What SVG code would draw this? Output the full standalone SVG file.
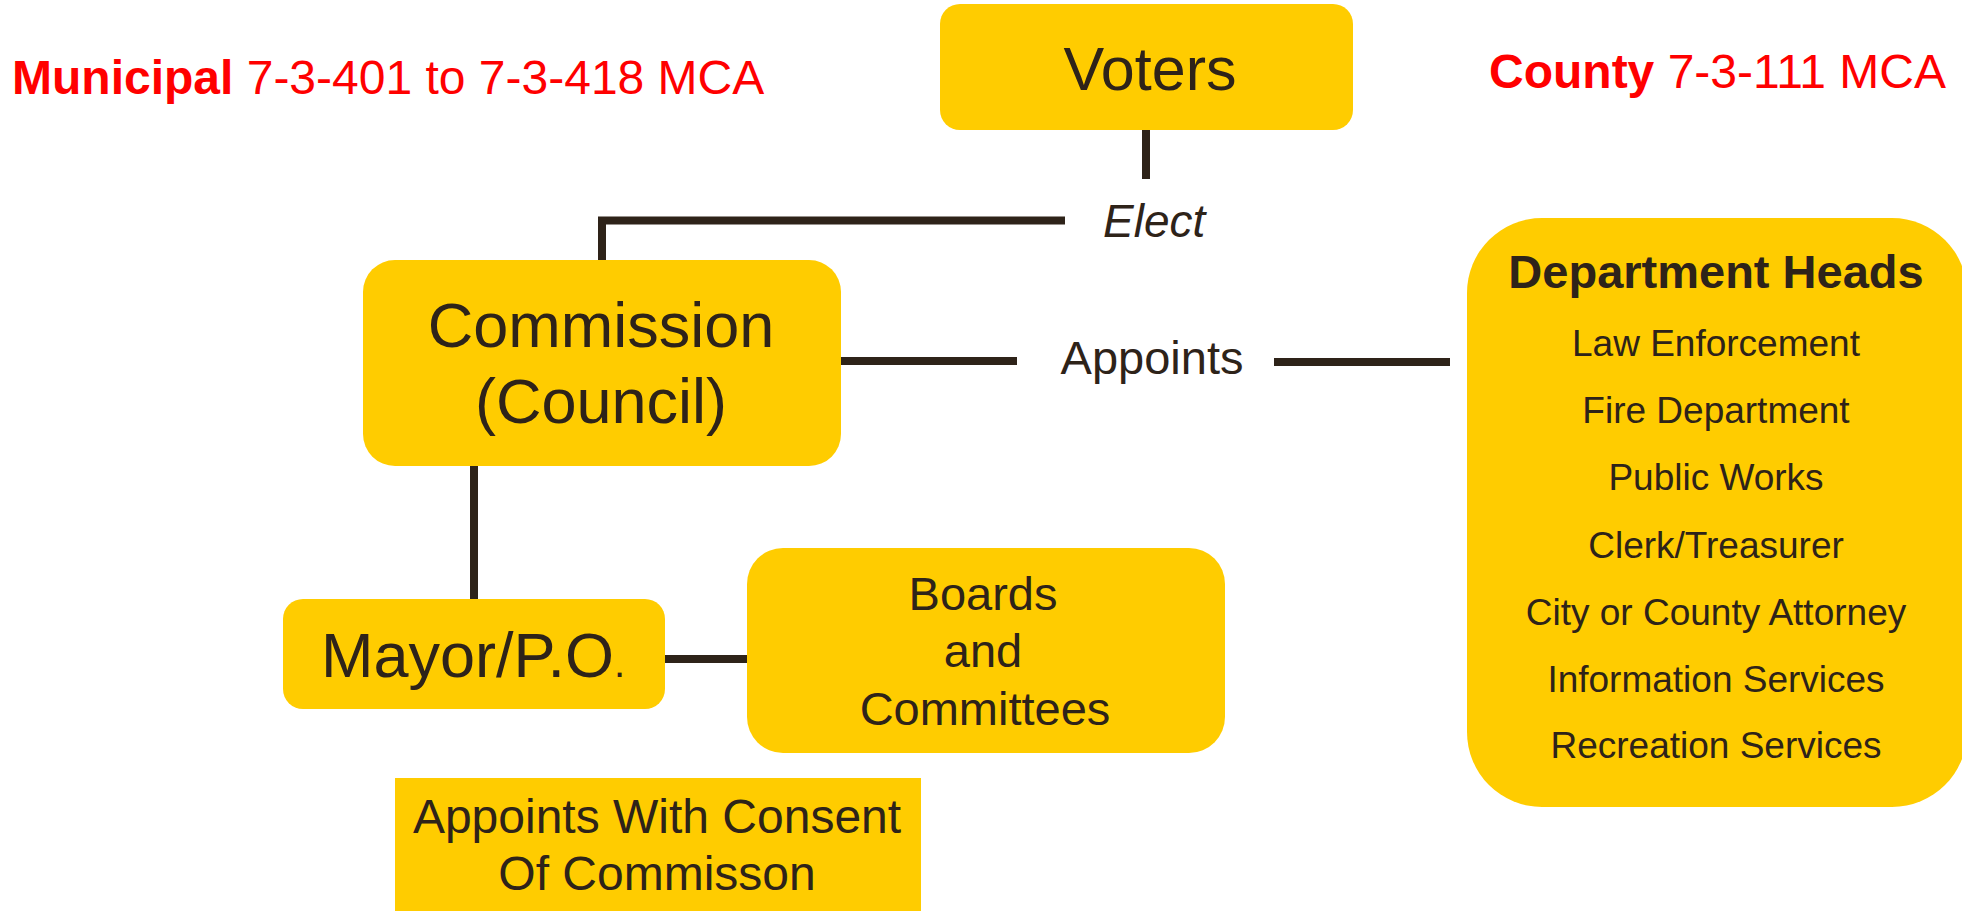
<svg xmlns="http://www.w3.org/2000/svg" width="1962" height="911" viewBox="0 0 1962 911">
<style>
.box{fill:#FFCC00;}
.t{font-family:"Liberation Sans",Arial,sans-serif;fill:#2e2319;}
.c{text-anchor:middle;}
.red{font-family:"Liberation Sans",Arial,sans-serif;fill:#FF0000;font-size:48px;}
.ln{stroke:#2e2319;stroke-width:8;fill:none;stroke-linejoin:miter;stroke-linecap:butt;}
</style>
<rect width="1962" height="911" fill="#ffffff"/>
<g id="title-municipal">
<text class="red" x="12" y="94"><tspan font-weight="bold">Municipal</tspan> 7-3-401 to 7-3-418 MCA</text>
</g>
<g id="title-county">
<text class="red" x="1489" y="88" font-size="47"><tspan font-weight="bold">County</tspan> 7-3-111 MCA</text>
</g>
<g id="connectors">
<path class="ln" d="M1146,130 V179"/>
<path class="ln" d="M602,260 V220.5 H1065"/>
<path class="ln" d="M841,361 H1017"/>
<path class="ln" d="M1274,362 H1450"/>
<path class="ln" d="M474,466 V599"/>
<path class="ln" d="M665,659 H747"/>
</g>
<g id="label-elect">
<text class="t" x="1103" y="237" font-size="46" font-style="italic">Elect</text>
</g>
<g id="label-appoints">
<text class="t c" x="1152" y="374" font-size="47">Appoints</text>
</g>
<g id="node-voters">
<rect class="box" x="940" y="4" width="413" height="126" rx="20" ry="20"/>
<text class="t c" x="1150" y="90" font-size="61">Voters</text>
</g>
<g id="node-commission">
<rect class="box" x="363" y="260" width="478" height="206" rx="32" ry="32"/>
<text class="t c" x="601" y="347" font-size="63">Commission</text>
<text class="t c" x="601" y="423" font-size="63">(Council)</text>
</g>
<g id="node-mayor">
<rect class="box" x="283" y="599" width="382" height="110" rx="20" ry="20"/>
<text class="t" x="321" y="677" font-size="63">Mayor/P.O<tspan font-size="40">.</tspan></text>
</g>
<g id="node-boards">
<rect class="box" x="747" y="548" width="478" height="205" rx="36" ry="36"/>
<text class="t c" x="983" y="610" font-size="47">Boards</text>
<text class="t c" x="983" y="667" font-size="47">and</text>
<text class="t c" x="985" y="725" font-size="47">Committees</text>
</g>
<g id="node-consent">
<rect class="box" x="395" y="778" width="526" height="140"/>
<text class="t c" x="657" y="833" font-size="48">Appoints With Consent</text>
<text class="t c" x="657" y="890" font-size="48">Of Commisson</text>
</g>
<g id="node-department-heads">
<rect class="box" x="1467" y="218" width="500" height="589" rx="75" ry="75"/>
<text class="t c" x="1716" y="288" font-size="47" font-weight="bold">Department Heads</text>
<text class="t c" x="1716" y="356" font-size="37">Law Enforcement</text>
<text class="t c" x="1716" y="423" font-size="37">Fire Department</text>
<text class="t c" x="1716" y="490" font-size="37">Public Works</text>
<text class="t c" x="1716" y="558" font-size="37">Clerk/Treasurer</text>
<text class="t c" x="1716" y="625" font-size="37">City or County Attorney</text>
<text class="t c" x="1716" y="692" font-size="37">Information Services</text>
<text class="t c" x="1716" y="758" font-size="37">Recreation Services</text>
</g>
</svg>
